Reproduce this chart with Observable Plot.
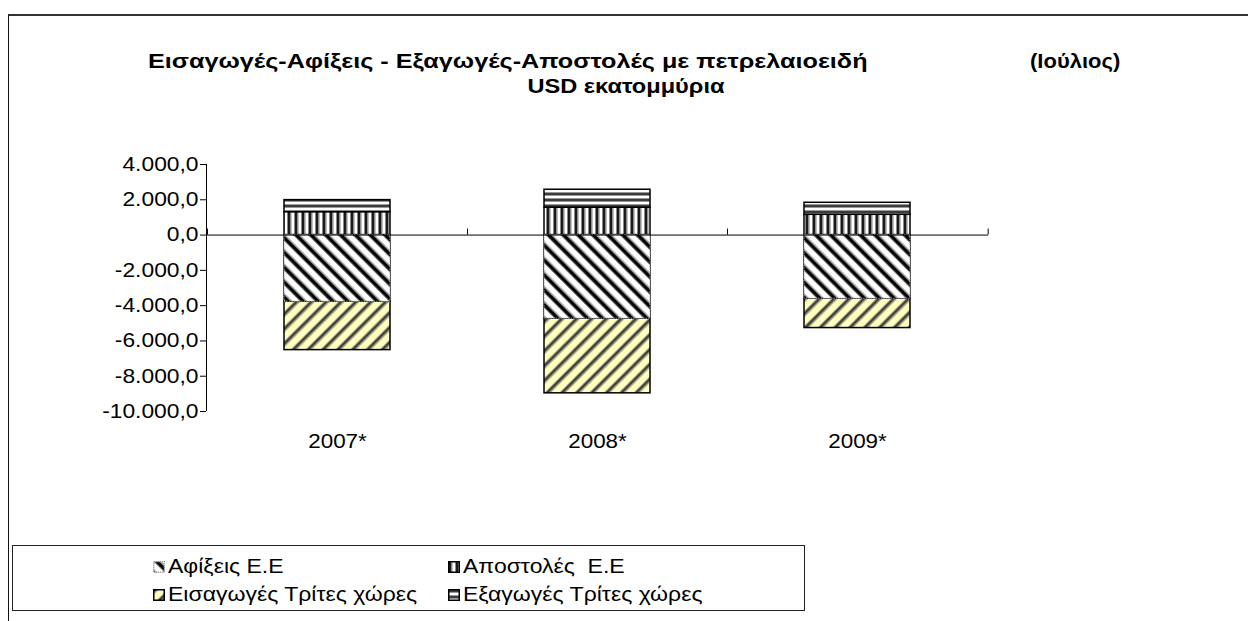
<!DOCTYPE html>
<html>
<head>
<meta charset="utf-8">
<script src="https://cdn.jsdelivr.net/npm/d3@7"></script>
<script src="https://cdn.jsdelivr.net/npm/@observablehq/plot@0.6"></script>
<style>
  html, body { margin: 0; padding: 0; background: #fff; width: 1248px; height: 621px; overflow: hidden; font-family: "Liberation Sans", Arial, sans-serif; }
  #frame { position: absolute; left: 8px; top: 14px; width: 1260px; height: 640px; border-top: 2px solid #333; border-left: 1.5px solid #111; }
  .title { position: absolute; font-weight: bold; font-size: 20px; color: #000; white-space: pre; display: inline-block; }
  #chart { position: absolute; left: 0; top: 150px; }
  #legend { position: absolute; left: 12px; top: 545px; width: 793px; height: 66px; border: 1.5px solid #222; box-sizing: border-box; }
  .item { position: absolute; font-size: 20px; color: #000; white-space: pre; display: flex; align-items: center; }
  .item svg { margin-right: 3px; }
  .item span { display: inline-block; transform: scaleX(1.15); transform-origin: left center; }
</style>
</head>
<body>
<svg width="0" height="0" style="position:absolute">
  <defs>
    <pattern id="pA" patternUnits="userSpaceOnUse" width="10.5" height="10.5" patternTransform="rotate(-45)">
      <rect width="10.5" height="10.5" fill="#fff"/>
      <rect x="0" width="1" height="10.5" fill="#777"/>
      <rect x="1" width="3.2" height="10.5" fill="#000"/>
      <rect x="4.2" width="1" height="10.5" fill="#777"/>
    </pattern>
    <pattern id="pI" patternUnits="userSpaceOnUse" width="10.5" height="10.5" patternTransform="rotate(45)">
      <rect width="10.5" height="10.5" fill="#ffffbf"/>
      <rect x="0" width="1" height="10.5" fill="#a0a080"/>
      <rect x="1" width="2.5" height="10.5" fill="#3a3a3a"/>
      <rect x="3.5" width="1" height="10.5" fill="#a0a080"/>
    </pattern>
    <pattern id="pV" patternUnits="userSpaceOnUse" width="7" height="7">
      <rect width="7" height="7" fill="#fff"/>
      <rect x="0" width="1" height="7" fill="#888"/>
      <rect x="1" width="2.5" height="7" fill="#1a1a1a"/>
      <rect x="3.5" width="1" height="7" fill="#888"/>
    </pattern>
    <pattern id="pH" patternUnits="userSpaceOnUse" width="6" height="6">
      <rect width="6" height="6" fill="#fff"/>
      <rect y="0" width="6" height="1" fill="#999"/>
      <rect y="1" width="6" height="2" fill="#3c3c3c"/>
      <rect y="3" width="6" height="1" fill="#999"/>
    </pattern>
  </defs>
</svg>
<div id="frame"></div>
<div class="title" id="t1" style="left:148px; top:50px; transform:scaleX(1.26); transform-origin:left center;">Εισαγωγές-Αφίξεις - Εξαγωγές-Αποστολές με πετρελαιοειδή</div>
<div class="title" id="t2" style="left:1030px; top:50px; transform:scaleX(1.1); transform-origin:left center;">(Ιούλιος)</div>
<div class="title" id="t3" style="left:0; width:1252px; text-align:center; top:75px; transform:scaleX(1.18); transform-origin:626px center;">USD εκατομμύρια</div>
<div id="chart"></div>
<div id="legend"></div>
<script>
// ---- data ----
const categories = ["2007*", "2008*", "2009*"];
const seriesNames = ["Αφίξεις Ε.Ε", "Αποστολές  Ε.Ε", "Εισαγωγές Τρίτες χώρες", "Εξαγωγές Τρίτες χώρες"];
const afixeis   = [-3780, -4740, -3610];
const apostoles = [1300, 1550, 1150];
const eisagoges = [-2740, -4230, -1660];
const exagoges  = [680, 1020, 680];
const yTicks = [-10000, -8000, -6000, -4000, -2000, 0, 2000, 4000];

const patterns = ["url(#pA)", "url(#pV)", "url(#pI)", "url(#pH)"];
const seriesValues = [afixeis, apostoles, eisagoges, exagoges];

const rows = [];
categories.forEach((c, i) => {
  seriesNames.forEach((s, k) => rows.push({cat: c, series: s, value: seriesValues[k][i]}));
});
const afixRows = rows.filter(d => d.series === seriesNames[0]);

const loc = d3.formatLocale({decimal: ",", thousands: ".", grouping: [3], currency: ["", ""], minus: "-"});
const fmt = loc.format(",.1f");

const inset = 77;

const axisLines = (index, scales, values, dims) => {
  const g = d3.create("svg:g").attr("stroke", "#000").attr("stroke-width", 1).attr("fill", "none");
  const x = scales.x, y = scales.y;
  const bw = (dims.width - dims.marginLeft - dims.marginRight) / categories.length;
  const y0 = y(0);
  g.append("line").attr("x1", dims.marginLeft + 0.5).attr("x2", dims.marginLeft + 0.5)
    .attr("y1", y(yTicks[yTicks.length - 1])).attr("y2", y(yTicks[0]));
  const bounds = categories.map(c => x(c)).concat([x(categories[categories.length - 1]) + bw]);
  bounds.forEach(bx => {
    g.append("line").attr("x1", bx + 0.5).attr("x2", bx + 0.5).attr("y1", y0 - 6).attr("y2", y0);
  });
  return g.node();
};

const chart = Plot.plot({
  width: 1248,
  height: 310,
  marginLeft: 206,
  marginRight: 260,
  marginTop: 14,
  marginBottom: 49,
  style: {fontFamily: "Liberation Sans, Arial, sans-serif", fontSize: "20px", color: "#000", background: "transparent", overflow: "visible"},
  x: {domain: categories, padding: 0, label: null},
  y: {domain: [-10000, 4000], label: null},
  color: {domain: seriesNames, range: patterns},
  marks: [
    Plot.barY(rows, Plot.stackY({
      x: "cat", y: "value", z: "series", fill: "series",
      stroke: "#000", strokeWidth: 1.5, insetLeft: inset, insetRight: inset
    })),
    Plot.barY(afixRows, {
      x: "cat", y1: 0, y2: "value", fill: "series",
      stroke: "#999", strokeWidth: 1, strokeDasharray: "1.5,1", insetLeft: inset, insetRight: inset
    }),
    Plot.ruleY([0], {stroke: "#000", strokeWidth: 1}),
    axisLines,
    Plot.axisY({ticks: yTicks, tickFormat: fmt, tickSize: 6, tickPadding: 2, stroke: "#000"}),
    Plot.axisX({tickSize: 0, tickPadding: 22})
  ]
});
document.getElementById("chart").appendChild(chart);

// widen tick labels slightly to match the reference's horizontal proportions
d3.select(chart).selectAll('g[aria-label="y-axis tick label"] text').each(function() {
  const w = this.getComputedTextLength();
  this.setAttribute("textLength", w * 1.14);
  this.setAttribute("lengthAdjust", "spacingAndGlyphs");
});
d3.select(chart).selectAll('g[aria-label="x-axis tick label"] text').each(function() {
  const w = this.getComputedTextLength();
  this.setAttribute("textLength", w * 1.12);
  this.setAttribute("lengthAdjust", "spacingAndGlyphs");
});

// ---- legend ----
const legend = document.getElementById("legend");
const pos = [[140, 21], [435, 21], [140, 49], [435, 49]];
[0, 1, 2, 3].forEach((k, j) => {
  const it = document.createElement("div");
  it.className = "item";
  it.style.left = pos[j][0] + "px";
  it.style.top = (pos[j][1] - 12) + "px";
  const stroke = k === 0 ? "#888" : "#000";
  const dash = k === 0 ? ' stroke-dasharray="1,1"' : "";
  it.innerHTML = `<svg width="12" height="12"><rect x="0.75" y="0.75" width="10.5" height="10.5" fill="${patterns[k]}" stroke="${stroke}" stroke-width="1.5"${dash}/></svg><span>${seriesNames[k]}</span>`;
  legend.appendChild(it);
});
</script>
</body>
</html>
